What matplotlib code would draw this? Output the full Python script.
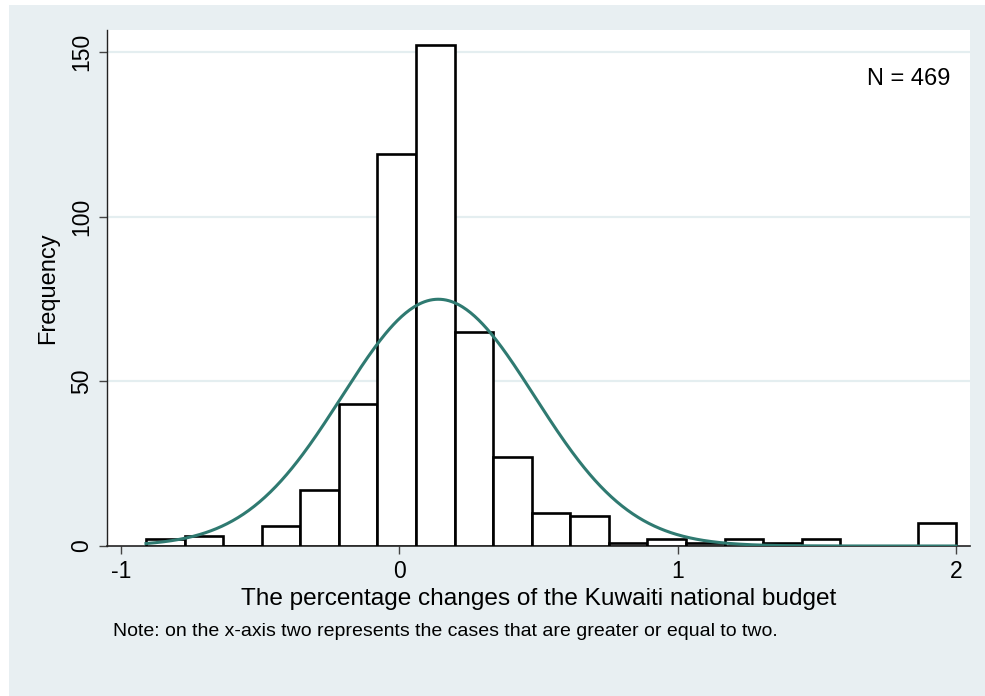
import numpy as np
import matplotlib
matplotlib.use("Agg")
import matplotlib.pyplot as plt
from matplotlib.patches import Rectangle

# ---- data ----
bin_start = -0.91
bin_end = 2.0
counts = [2, 3, 0, 6, 17, 43, 119, 152, 65, 27, 10, 9, 1, 2, 1, 2, 1, 2, 0, 0, 7]
n_obs = 469
norm_mean = 0.14
norm_sd = 0.346
xticks = [-1, 0, 1, 2]
yticks = [0, 50, 100, 150]
xlabel = "The percentage changes of the Kuwaiti national budget"
ylabel = "Frequency"
note = "Note: on the x-axis two represents the cases that are greater or equal to two."
n_text = "N = 469"

plt.rcParams['font.family'] = ['Liberation Sans', 'DejaVu Sans']

W, H = 985, 696
fig = plt.figure(figsize=(W / 100, H / 100), dpi=100)
fig.patch.set_facecolor('white')
bg = '#e8eff2'
fig.patches.append(Rectangle((9 / W, 0), 1 - 9 / W, 1 - 5 / H, transform=fig.transFigure,
                             facecolor=bg, edgecolor='none', zorder=-10))

left, right, top, bottom = 107, 970, 30, 546
ax = fig.add_axes([left / W, 1 - bottom / H, (right - left) / W, (bottom - top) / H])
ax.set_facecolor('white')

nb = len(counts)
edges = np.linspace(bin_start, bin_end, nb + 1)
width = edges[1] - edges[0]
ax.bar(edges[:-1], counts, width=width, align='edge', facecolor='white',
       edgecolor='black', linewidth=1.9, zorder=3)

xs = np.linspace(bin_start, bin_end, 600)
pdf = n_obs * width * np.exp(-0.5 * ((xs - norm_mean) / norm_sd) ** 2) / (norm_sd * np.sqrt(2 * np.pi))
ax.plot(xs, pdf, color='#2f7a71', linewidth=2.2, zorder=4)

ax.set_xlim(-1.05, 2.05)
ax.set_ylim(0, 156.7)
ax.set_xticks(xticks)
ax.set_xticklabels([str(t) for t in xticks])
ax.set_yticks(yticks)
ax.set_yticklabels([str(t) for t in yticks], rotation=90, va='center')
for y in yticks[1:]:
    ax.axhline(y, color='#e4eef0', linewidth=1.6, zorder=1)

for s in ['top', 'right']:
    ax.spines[s].set_visible(False)
ax.spines['left'].set_linewidth(1.0)
ax.spines['bottom'].set_linewidth(1.2)
ax.spines['left'].set_color('#222222')
ax.spines['bottom'].set_color('#222222')
ax.tick_params(axis='both', direction='out', length=6, width=1.0, color='#444444',
               labelsize=16.5, pad=4)

ax.set_xlabel(xlabel, fontsize=17.6, labelpad=4)
ax.set_ylabel(ylabel, fontsize=17, labelpad=8)

ax.text(0.977, 0.905, n_text, transform=ax.transAxes, ha='right', va='center', fontsize=17)
fig.text(113 / W, 1 - 632 / H, note, ha='left', va='center', fontsize=14)

fig.savefig('out.png', dpi=100, facecolor=fig.get_facecolor())
